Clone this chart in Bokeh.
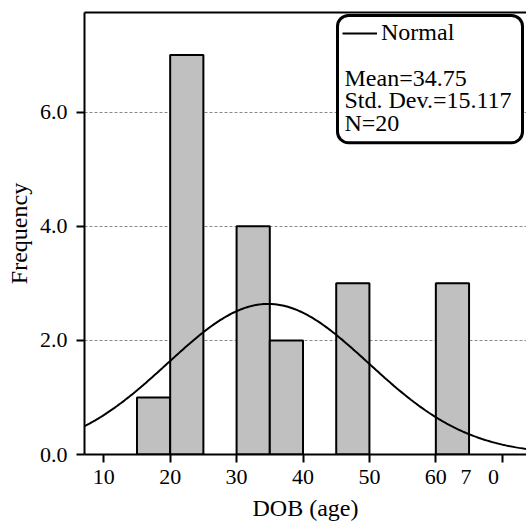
import numpy as np
from bokeh.plotting import figure
from bokeh.models import (FixedTicker, PrintfTickFormatter, LinearAxis, Range1d,
                          Label, BoxAnnotation, Legend, LegendItem, ColumnDataSource)
from bokeh.embed import file_html
from bokeh.resources import INLINE

# ---- data ----
bin_left = [15, 20, 30, 35, 45, 60]
bin_width = 5
counts = [1, 7, 4, 2, 3, 3]
mean = 34.75
std_dev = 15.117
n_obs = 20
x_ticks = [10, 20, 30, 40, 50, 60, 70]
y_ticks = [0, 2, 4, 6]
x_label = "DOB (age)"
y_label = "Frequency"
legend_name = "Normal"
stats_lines = ["Mean=34.75", "Std. Dev.=15.117", "N=20"]

FONT = "Liberation Serif"
X0, X1 = 7.1, 73.65
Y0, Y1 = 0.0, 7.747

p = figure(width=526, height=523, output_backend="svg", toolbar_location=None,
           x_range=Range1d(X0, X1), y_range=Range1d(Y0, Y1),
           min_border_left=84, min_border_right=0, min_border_top=12, min_border_bottom=63)
p.outline_line_color = None
p.background_fill_color = "white"
p.border_fill_color = "white"

# frame px helpers (canvas coords) for annotation placement
FL, FR, FT, FB = 84, 526, 12, 460
def xd(px):
    return X0 + (px - FL) * (X1 - X0) / (FR - FL)
def yd(py):
    return Y0 + (FB - py) * (Y1 - Y0) / (FB - FT)

# grid
p.xgrid.grid_line_color = None
p.ygrid.ticker = FixedTicker(ticks=y_ticks[1:])
p.ygrid.grid_line_color = "#8a8a8a"
p.ygrid.grid_line_dash = "3 2"
p.ygrid.grid_line_width = 1

# bars
src = ColumnDataSource(dict(left=bin_left,
                            right=[b + bin_width for b in bin_left],
                            top=counts, bottom=[0] * len(counts)))
p.quad(left="left", right="right", top="top", bottom="bottom", source=src,
       fill_color="#c0c0c0", line_color="black", line_width=2)

# normal curve (fitted from mean, std dev and N)
xs = np.linspace(X0, X1, 300)
ys = n_obs * bin_width * np.exp(-0.5 * ((xs - mean) / std_dev) ** 2) / (std_dev * np.sqrt(2 * np.pi))
curve = p.line(xs, ys, line_color="black", line_width=2)

# axes
xa = p.xaxis[0]
xa.ticker = FixedTicker(ticks=x_ticks)
NB = "\u00a0"
xa.major_label_overrides = {70: "7" + NB * 3 + "0" + NB * 5}
ya = p.yaxis[0]
ya.ticker = FixedTicker(ticks=y_ticks)
ya.formatter = PrintfTickFormatter(format="%.1f")
for ax in (xa, ya):
    ax.axis_line_width = 2
    ax.axis_line_color = "black"
    ax.major_tick_line_width = 2
    ax.major_tick_line_color = "black"
    ax.major_tick_out = 8
    ax.major_tick_in = 0
    ax.minor_tick_line_color = None
    ax.major_label_text_font = FONT
    ax.major_label_text_font_size = "22px"
    ax.major_label_text_color = "black"
    ax.axis_label_text_font = FONT
    ax.axis_label_text_font_size = "24px"
    ax.axis_label_text_font_style = "normal"
    ax.axis_label_text_color = "black"
xa.axis_label = x_label
ya.axis_label = y_label
xa.major_label_standoff = 1
xa.axis_label_standoff = 3
ya.major_label_standoff = 9
ya.axis_label_standoff = 5

top_axis = LinearAxis(ticker=FixedTicker(ticks=[]), axis_line_width=2,
                      major_tick_out=0, major_tick_in=0, minor_tick_line_color=None,
                      major_label_standoff=0, major_label_text_font_size="0px")
p.add_layout(top_axis, "above")

# legend box
p.add_layout(BoxAnnotation(left=xd(337), right=xd(522), top=yd(15), bottom=yd(144),
                           fill_color="white", fill_alpha=1.0, line_color="black",
                           line_alpha=1.0, line_width=3, border_radius=11,
                           level="annotation"))
leg = Legend(items=[LegendItem(label=legend_name, renderers=[curve])],
             location=(258, 408), orientation="vertical",
             border_line_color=None, background_fill_alpha=0.0,
             padding=0, margin=0, spacing=0, glyph_width=35, glyph_height=16,
             label_height=24, label_standoff=4,
             label_text_font=FONT, label_text_font_size="24px", label_text_color="black")
p.add_layout(leg, "center")
for txt, base in zip(stats_lines, (78, 101, 124)):
    p.add_layout(Label(x=xd(344), y=yd(base), text=txt, text_font=FONT,
                       text_font_size="24px", text_align="left",
                       text_baseline="alphabetic", text_color="black"))

open("out.html", "w").write(file_html(p, INLINE))
